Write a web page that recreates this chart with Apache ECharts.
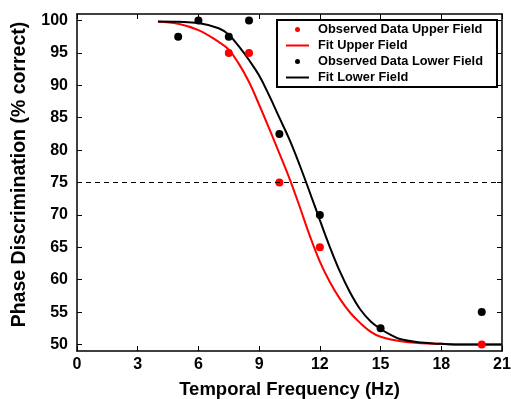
<!DOCTYPE html>
<html>
<head>
<meta charset="utf-8">
<script src="https://cdn.jsdelivr.net/npm/echarts@6/dist/echarts.min.js"></script>
<style>html,body{margin:0;padding:0;background:#fff}#c{width:511px;height:399px}</style>
</head>
<body>
<div id="c"></div>
<script>
// Observed data
const upperObsX = [7.5, 8.5, 10, 12, 20];
const upperObsY = [95, 95, 75, 65, 50];
const lowerObsX = [5, 6, 7.5, 8.5, 10, 12, 15, 20];
const lowerObsY = [97.5, 100, 97.5, 100, 82.5, 70, 52.5, 55];
// Fit curves
const upperFitX = [4, 5, 6, 7, 7.5, 8, 8.5, 9, 9.5, 10, 10.5, 11, 11.5, 12, 12.5, 13, 13.5, 14, 14.5, 15, 16, 17, 18, 19, 21];
const upperFitY = [99.8, 99.5, 98.5, 96.7, 95.5, 93.3, 90.5, 87.0, 83.3, 79.5, 75.6, 71.3, 66.8, 62.8, 59.6, 57.0, 54.9, 53.3, 52.0, 51.2, 50.5, 50.2, 50.1, 50.0, 50.0];
const lowerFitX = [4, 5, 6, 7, 7.5, 8, 8.5, 9, 9.5, 10, 10.5, 11, 11.5, 12, 12.5, 13, 13.5, 14, 14.5, 15, 15.5, 16, 17, 18, 19, 21];
const lowerFitY = [99.85, 99.8, 99.6, 98.8, 97.8, 96.0, 93.9, 91.5, 88.4, 85.0, 81.6, 77.7, 73.5, 69.2, 65.0, 61.2, 58.0, 55.4, 53.6, 52.4, 51.5, 50.8, 50.3, 50.1, 50.0, 50.0];
const threshold = 75;
const yTicks = [50, 55, 60, 65, 70, 75, 80, 85, 90, 95, 100];

const FONT = "'Liberation Sans', Arial, Helvetica, sans-serif";
const zip = (xs, ys) => xs.map((x, i) => [x, ys[i]]);

const chart = echarts.init(document.getElementById('c'), null, {renderer: 'canvas'});
const axisLine = {show: true, onZero: false, lineStyle: {color: '#000', width: 1.5}};
const tick = {show: true, inside: true, length: 5, lineStyle: {color: '#000', width: 1}};
const hidden = {color: 'rgba(0,0,0,0)', borderWidth: 0, opacity: 0};
chart.setOption({
  animation: false,
  backgroundColor: '#fff',
  grid: {left: 77, right: 9, top: 14, bottom: 48, containLabel: false, outerBoundsMode: 'none'},
  xAxis: [{
    type: 'value', min: 0, max: 21, interval: 3, position: 'bottom',
    name: 'Temporal Frequency (Hz)', nameLocation: 'middle', nameGap: 29,
    nameTextStyle: {fontFamily: FONT, fontWeight: 'bold', fontSize: 18.5, color: '#000'},
    axisLine, axisTick: tick, splitLine: {show: false},
    axisLabel: {fontFamily: FONT, fontWeight: 'bold', fontSize: 16, color: '#000', margin: 6}
  }, {
    type: 'value', min: 0, max: 21, interval: 3, position: 'top',
    axisLine, axisTick: tick, splitLine: {show: false}, axisLabel: {show: false}
  }],
  yAxis: [{
    type: 'value', min: 49, max: 101, position: 'left',
    name: 'Phase Discrimination (% correct)', nameLocation: 'middle', nameGap: 47,
    nameTextStyle: {fontFamily: FONT, fontWeight: 'bold', fontSize: 19.5, color: '#000', padding: [0, 0, 0, 16]},
    axisLine, axisTick: Object.assign({customValues: yTicks}, tick), splitLine: {show: false},
    axisLabel: {customValues: yTicks, fontFamily: FONT, fontWeight: 'bold', fontSize: 16, color: '#000', margin: 9}
  }, {
    type: 'value', min: 49, max: 101, position: 'right',
    axisLine, axisTick: Object.assign({customValues: yTicks}, tick), splitLine: {show: false},
    axisLabel: {show: false}
  }],
  legend: {
    orient: 'vertical', left: 277, top: 20,
    borderColor: '#000', borderWidth: 2, borderRadius: 0,
    backgroundColor: '#fff',
    padding: [3, 14, 3, 8], itemGap: 3, itemWidth: 23, itemHeight: 5,
    textStyle: {fontFamily: FONT, fontWeight: 'bold', fontSize: 12.8, color: '#000', lineHeight: 13, padding: [0, 0, 0, 4]},
    data: [
      {name: 'Observed Data Upper Field', icon: 'circle'},
      {name: 'Fit Upper Field', itemStyle: hidden},
      {name: 'Observed Data Lower Field', icon: 'circle'},
      {name: 'Fit Lower Field', itemStyle: hidden}
    ]
  },
  series: [
    {
      name: 'Fit Upper Field', type: 'line', data: zip(upperFitX, upperFitY),
      smooth: 0.4, symbol: 'none', lineStyle: {color: '#ff0000', width: 2}, itemStyle: {color: '#ff0000'}, z: 2,
      markLine: {
        silent: true, symbol: 'none', label: {show: false},
        lineStyle: {color: '#000', type: [5, 4], width: 1},
        data: [{yAxis: threshold}]
      }
    },
    {
      name: 'Fit Lower Field', type: 'line', data: zip(lowerFitX, lowerFitY),
      smooth: 0.4, symbol: 'none', lineStyle: {color: '#000', width: 2}, itemStyle: {color: '#000'}, z: 2
    },
    {
      name: 'Observed Data Upper Field', type: 'scatter', data: zip(upperObsX, upperObsY),
      symbol: 'circle', symbolSize: 8, itemStyle: {color: '#ff0000', opacity: 1}, z: 3
    },
    {
      name: 'Observed Data Lower Field', type: 'scatter', data: zip(lowerObsX, lowerObsY),
      symbol: 'circle', symbolSize: 8, itemStyle: {color: '#000', opacity: 1}, z: 3
    }
  ]
});
</script>
</body>
</html>
